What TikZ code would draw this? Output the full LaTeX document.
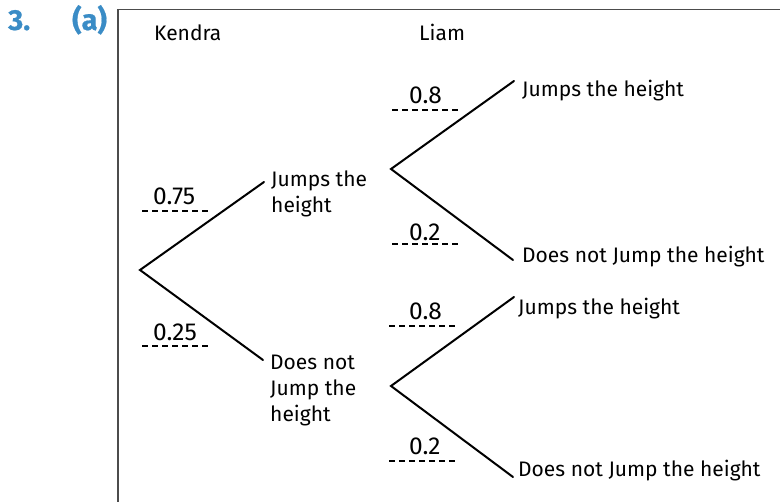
\documentclass[tikz,border=0pt]{standalone}
\usepackage{fontspec}
\setmainfont{Fira Sans}
\newfontfamily\headfont[FakeBold=0.6]{Fira Sans}
\begin{document}
\begin{tikzpicture}[x=1pt,y=-1pt,
  txt/.style={inner sep=0pt,anchor=base west,align=left,font=\fontsize{21}{26}\selectfont},
  num/.style={inner sep=0pt,anchor=base west,font=\fontsize{24.5}{28}\selectfont},
  branch/.style={line width=2pt,line cap=round,line join=miter},
  dashes/.style={line width=1.5pt,dash pattern=on 6pt off 4pt},
  head/.style={inner sep=0pt,anchor=base west,text=headblue,font=\headfont\bfseries\fontsize{29}{32}\selectfont}]
\definecolor{headblue}{HTML}{3A8CC6}
\useasboundingbox (0,0) rectangle (780,502);
\fill[white] (0,0) rectangle (780,502);
% frame
\coordinate (fTL) at (118,9.5);
\coordinate (fTR) at (780,9.5);
\coordinate (fBL) at (118,502);
\draw[line width=1.3pt,color=black!70] (fTR) -- (fTL) -- (fBL);
% heading
\node[head] (n3) at (8,30) {3.};
\node[head] (na) at (72,30) {(a)};
\node[txt] (kendra) at (154,41) {Kendra};
\node[txt] (liam) at (419,41) {Liam};
% first stage
\coordinate (K) at (140,270);
\coordinate (Ju) at (264,182);
\coordinate (Jd) at (263,360);
\node[txt] (J1) at (271,213) {Jumps the\\height};
\node[txt] (N1) at (270,422) {Does not\\Jump the\\height};
\draw[branch] (Ju) -- (K) -- (Jd);
% probabilities first stage
\node[num] (p075) at (153,205) {0.75};
\coordinate (d1a) at (142,211); \coordinate (d1b) at (209,211);
\draw[dashes] (d1a) -- (d1b);
\node[num] (p025) at (153,341) {0.25};
\coordinate (d2a) at (142,346); \coordinate (d2b) at (209,346);
\draw[dashes] (d2a) -- (d2b);
% second stage, upper
\coordinate (L1) at (391,169);
\coordinate (L1u) at (514,81);
\coordinate (L1d) at (513,260);
\draw[branch] (L1u) -- (L1) -- (L1d);
\node[txt] (JJ) at (522,97) {Jumps the height};
\node[txt] (JN) at (522,263) {Does not Jump the height};
\node[num] (p08a) at (409,104) {0.8};
\coordinate (d3a) at (392,110); \coordinate (d3b) at (460,110);
\draw[dashes] (d3a) -- (d3b);
\node[num] (p02a) at (409,241) {0.2};
\coordinate (d4a) at (392,244); \coordinate (d4b) at (460,244);
\draw[dashes] (d4a) -- (d4b);
% second stage, lower
\coordinate (L2) at (391,386);
\coordinate (L2u) at (514,297);
\coordinate (L2d) at (513,477);
\draw[branch] (L2u) -- (L2) -- (L2d);
\node[txt] (NJ) at (518,315) {Jumps the height};
\node[txt] (NN) at (518,477) {Does not Jump the height};
\node[num] (p08b) at (409,320) {0.8};
\coordinate (d5a) at (389,326); \coordinate (d5b) at (457,326);
\draw[dashes] (d5a) -- (d5b);
\node[num] (p02b) at (409,455) {0.2};
\coordinate (d6a) at (389,461); \coordinate (d6b) at (457,461);
\draw[dashes] (d6a) -- (d6b);
\end{tikzpicture}
\end{document}
